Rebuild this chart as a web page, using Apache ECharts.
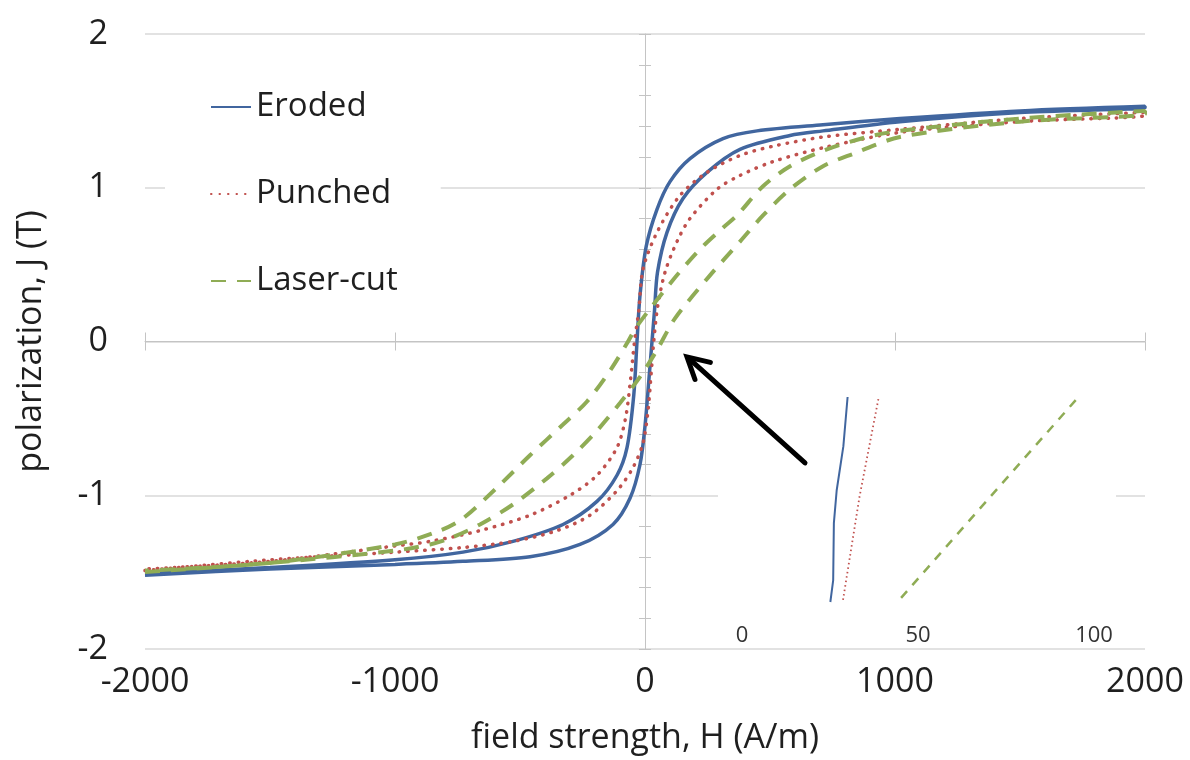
<!DOCTYPE html>
<html>
<head>
<meta charset="utf-8">
<script src="https://cdn.jsdelivr.net/npm/echarts@6/dist/echarts.min.js"></script>
<style>html,body{margin:0;padding:0;background:#fff}#c{width:1190px;height:760px}</style>
</head>
<body>
<div id="c"></div>
<script>
// ---- data (H in A/m, J in T) ----
const seriesNames = ['Eroded', 'Punched', 'Laser-cut'];
const xTicks = [-2000, -1000, 0, 1000, 2000];
const yTicks = [-2, -1, 0, 1, 2];
const insetTicks = [0, 50, 100];

const erodedAsc = [[-2000,-1.52],[-1500,-1.48],[-1000,-1.45],[-728,-1.43],[-460,-1.40],[-260,-1.32],[-128,-1.19],[-60,-1.02],[-20,-0.80],[0,-0.55],[18,-0.2],[28,0.0],[38,0.2],[50,0.45],[88,0.71],[152,0.93],[248,1.10],[380,1.25],[580,1.34],[712,1.37],[1020,1.43],[1500,1.49],[2000,1.52]];
const erodedDesc = [[2000,1.53],[1500,1.50],[1020,1.45],[712,1.41],[448,1.37],[312,1.32],[180,1.19],[100,1.04],[48,0.86],[5,0.62],[-20,0.30],[-32,0.0],[-45,-0.35],[-72,-0.69],[-112,-0.87],[-192,-1.04],[-328,-1.19],[-528,-1.30],[-728,-1.37],[-1000,-1.42],[-1500,-1.47],[-2000,-1.51]];

const punchedAsc = [[-2000,-1.49],[-1500,-1.42],[-1000,-1.37],[-728,-1.34],[-528,-1.30],[-352,-1.23],[-220,-1.13],[-112,-0.97],[-48,-0.82],[-8,-0.66],[12,-0.45],[25,-0.2],[35,0.0],[50,0.22],[80,0.45],[128,0.65],[180,0.80],[288,0.99],[380,1.08],[512,1.17],[712,1.26],[1020,1.36],[1500,1.43],[2000,1.47]];
const punchedDesc = [[2000,1.49],[1500,1.45],[1020,1.38],[712,1.33],[512,1.27],[380,1.21],[248,1.10],[140,0.95],[48,0.71],[-8,0.47],[-25,0.2],[-42,0.0],[-58,-0.25],[-78,-0.5],[-112,-0.69],[-192,-0.87],[-300,-1.0],[-460,-1.13],[-660,-1.23],[-860,-1.30],[-1000,-1.33],[-1500,-1.43],[-2000,-1.48]];

const laserAsc = [[-2000,-1.50],[-1500,-1.44],[-1000,-1.36],[-860,-1.32],[-780,-1.28],[-660,-1.19],[-528,-1.06],[-392,-0.89],[-288,-0.74],[-192,-0.58],[-100,-0.40],[-20,-0.23],[50,-0.05],[120,0.15],[260,0.43],[380,0.65],[472,0.82],[580,0.99],[712,1.14],[832,1.22],[1020,1.33],[1500,1.43],[2000,1.48]];
const laserDesc = [[2000,1.50],[1500,1.45],[1020,1.37],[888,1.33],[712,1.24],[580,1.14],[472,1.01],[368,0.82],[312,0.74],[220,0.60],[112,0.40],[-32,0.10],[-75,-0.02],[-140,-0.19],[-232,-0.39],[-328,-0.54],[-460,-0.74],[-592,-0.95],[-728,-1.15],[-820,-1.23],[-1000,-1.32],[-1500,-1.44],[-2000,-1.49]];

// inset: zoom of the ascending branches around J = 0
const erodedInset = [[25.1,-0.1],[25.9,-0.079],[26.1,-0.023],[26.9,0.009],[28.8,0.052],[30.0,0.1]];
const punchedInset = [[28.7,-0.098],[33.4,0.003],[38.8,0.099]];
const laserInset = [[45.2,-0.096],[94.8,0.097]];

// arrow annotation (data coords of main chart): tail, tip
const arrowTail = [640, -0.79];
const arrowTip = [168, -0.10];

// ---- styles ----
const FONT = 'Open Sans';
const TXT = '#1f1f1f';
const GRIDC = '#d9d9d9';
const AXC = '#c4c4c4';
const C_BLUE = '#41669f';
const C_RED = '#c0504d';
const C_GREEN = '#8fac55';

const chart = echarts.init(document.getElementById('c'), null, {renderer: 'canvas'});

const xMin = xTicks[0], xMax = xTicks[xTicks.length - 1];
const yMin = yTicks[0], yMax = yTicks[yTicks.length - 1];
const plain = v => String(v);

function xZeroAxis(pos) {
  return {
    type: 'value', gridIndex: 0, min: xMin, max: xMax, interval: 1000, position: pos,
    axisLine: {show: pos === 'bottom', onZero: true, lineStyle: {color: AXC, width: 1}},
    axisTick: {show: true, length: 9, lineStyle: {color: AXC, width: 1}},
    axisLabel: {show: false}, splitLine: {show: false}
  };
}
function yZeroAxis(pos) {
  return {
    type: 'value', gridIndex: 0, min: yMin, max: yMax, interval: 1, position: pos,
    axisLine: {show: pos === 'left', onZero: true, lineStyle: {color: AXC, width: 1}},
    axisTick: {show: true, length: 6, lineStyle: {color: AXC, width: 1}},
    minorTick: {show: true, splitNumber: 5, length: 6, lineStyle: {color: AXC, width: 1}},
    axisLabel: {show: false}, splitLine: {show: false}
  };
}

const option = {
  backgroundColor: '#fff',
  animation: false,
  textStyle: {fontFamily: FONT},
  grid: [
    {left: 145, right: 45, top: 34, bottom: 108},
    {left: 742, width: 352, top: 397, height: 205}
  ],
  legend: {
    data: seriesNames,
    orient: 'vertical', left: 165, top: 60,
    padding: [27, 43, 20, 45],
    backgroundColor: '#fff',
    itemWidth: 40, itemHeight: 14, itemGap: 47,
    itemStyle: {opacity: 0},
    textStyle: {fontSize: 33, color: TXT, fontFamily: FONT, lineHeight: 40}
  },
  xAxis: [
    {
      type: 'value', gridIndex: 0, min: xMin, max: xMax, interval: 1000, position: 'bottom',
      axisLine: {show: false, onZero: false}, axisTick: {show: false}, splitLine: {show: false},
      axisLabel: {fontSize: 34, color: TXT, fontFamily: FONT, margin: 16, formatter: plain},
      name: 'field strength, H (A/m)', nameLocation: 'middle', nameGap: 72,
      nameTextStyle: {fontSize: 34, color: TXT, fontFamily: FONT}
    },
    xZeroAxis('bottom'),
    xZeroAxis('top'),
    {
      type: 'value', gridIndex: 1, min: insetTicks[0], max: insetTicks[insetTicks.length - 1], interval: 50, z: 5,
      axisLine: {show: false, onZero: false}, axisTick: {show: false}, splitLine: {show: false},
      axisLabel: {fontSize: 22, color: '#333', fontFamily: FONT, margin: 23, formatter: plain}
    }
  ],
  yAxis: [
    {
      type: 'value', gridIndex: 0, min: yMin, max: yMax, interval: 1, position: 'left',
      axisLine: {show: false, onZero: false}, axisTick: {show: false},
      splitLine: {show: true, lineStyle: {color: GRIDC, width: 1.5}},
      axisLabel: {fontSize: 34, color: TXT, fontFamily: FONT, margin: 37, formatter: plain},
      name: 'polarization, J (T)', nameLocation: 'middle', nameGap: 97,
      nameTextStyle: {fontSize: 34, color: TXT, fontFamily: FONT}
    },
    yZeroAxis('left'),
    yZeroAxis('right'),
    {type: 'value', gridIndex: 1, min: -0.1, max: 0.1, show: false}
  ],
  series: [
    {
      name: seriesNames[0], type: 'line', xAxisIndex: 0, yAxisIndex: 0,
      data: erodedAsc.concat(erodedDesc), symbol: 'none', smooth: 0.3, z: 3,
      lineStyle: {color: C_BLUE, width: 3.5}, itemStyle: {color: C_BLUE}
    },
    {
      name: seriesNames[1], type: 'line', xAxisIndex: 0, yAxisIndex: 0,
      data: punchedAsc.concat(punchedDesc), symbol: 'none', smooth: 0.3, z: 3,
      lineStyle: {color: C_RED, width: 3.5, type: [0.5, 8], cap: 'round'}, itemStyle: {color: C_RED}
    },
    {
      name: seriesNames[2], type: 'line', xAxisIndex: 0, yAxisIndex: 0,
      data: laserAsc.concat(laserDesc), symbol: 'none', smooth: 0.3, z: 3,
      lineStyle: {color: C_GREEN, width: 4, type: [15, 11]}, itemStyle: {color: C_GREEN}
    },
    {
      name: 'Eroded (inset)', type: 'line', xAxisIndex: 3, yAxisIndex: 3,
      data: erodedInset, symbol: 'none', z: 3,
      lineStyle: {color: C_BLUE, width: 2}
    },
    {
      name: 'Punched (inset)', type: 'line', xAxisIndex: 3, yAxisIndex: 3,
      data: punchedInset, symbol: 'none', z: 3,
      lineStyle: {color: C_RED, width: 1.8, type: [1.5, 3]}
    },
    {
      name: 'Laser-cut (inset)', type: 'line', xAxisIndex: 3, yAxisIndex: 3,
      data: laserInset, symbol: 'none', z: 3,
      lineStyle: {color: C_GREEN, width: 2.5, type: [9, 8]}
    }
  ],
  graphic: [
    {type: 'rect', id: 'insetBg', z: 1, shape: {x: 718, y: 362, width: 398, height: 280}, style: {fill: '#fff'}}
  ]
};

chart.setOption(option);

// arrow annotation anchored on main chart data coordinates
const pT = chart.convertToPixel({gridIndex: 0}, arrowTail);
const pH = chart.convertToPixel({gridIndex: 0}, arrowTip);
const dx = pT[0] - pH[0], dy = pT[1] - pH[1];
const L = Math.sqrt(dx * dx + dy * dy);
const ux = dx / L, uy = dy / L;
const wing = 24, ang = 0.5;
function rot(x, y, a) { return [x * Math.cos(a) - y * Math.sin(a), x * Math.sin(a) + y * Math.cos(a)]; }
const w1 = rot(ux, uy, ang), w2 = rot(ux, uy, -ang);
chart.setOption({
  graphic: [
    {type: 'rect', id: 'insetBg', z: 1, shape: {x: 718, y: 362, width: 398, height: 280}, style: {fill: '#fff'}},
    {type: 'line', id: 'arrowShaft', z: 10, shape: {x1: pT[0], y1: pT[1], x2: pH[0] + ux * 2, y2: pH[1] + uy * 2},
      style: {stroke: '#000', lineWidth: 5, lineCap: 'round'}},
    {type: 'polyline', id: 'arrowHead', z: 10,
      shape: {points: [[pH[0] + w1[0] * wing, pH[1] + w1[1] * wing], [pH[0], pH[1]], [pH[0] + w2[0] * wing, pH[1] + w2[1] * wing]]},
      style: {stroke: '#000', lineWidth: 5, lineCap: 'round', lineJoin: 'miter', fill: null}}
  ]
});
</script>
</body>
</html>
